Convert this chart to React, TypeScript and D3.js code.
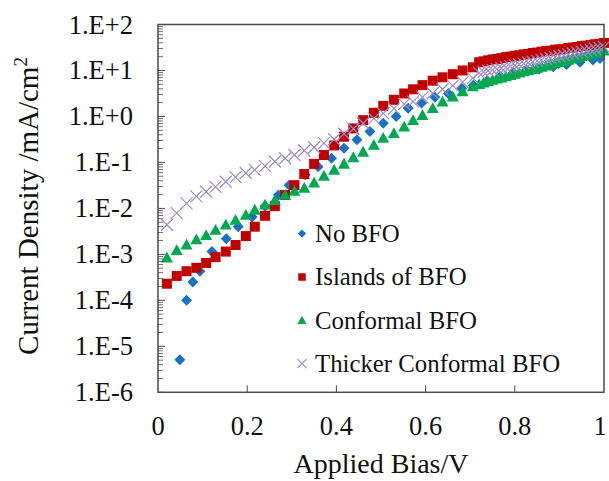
import React from "react";
import * as d3 from "d3";

// Applied bias (V) grid shared by Islands / Conformal / Thicker series
const biasGrid = [
  0.02, 0.042, 0.064, 0.086, 0.108, 0.129, 0.152, 0.174, 0.197, 0.217, 0.24, 0.262, 0.285, 0.306, 0.328, 0.35,
  0.372, 0.395, 0.417, 0.438, 0.46, 0.484, 0.505, 0.529, 0.552, 0.572, 0.593, 0.616, 0.638, 0.661, 0.683, 0.706,
  0.72, 0.73, 0.74, 0.75, 0.76, 0.77, 0.78, 0.79, 0.8, 0.81, 0.82, 0.83, 0.84, 0.85, 0.86, 0.87, 0.88, 0.89,
  0.9, 0.91, 0.92, 0.93, 0.94, 0.95, 0.96, 0.97, 0.98, 0.99, 1.0,
];

// Current density (mA/cm^2)
const islandsBFO = [
  2.3e-4, 3.4e-4, 4.3e-4, 5.1e-4, 6.5e-4, 8.7e-4, 1.15e-3, 1.6e-3, 2.5e-3, 4.0e-3, 6.9e-3, 1.12e-2, 1.95e-2, 3.2e-2,
  5.6e-2, 9.3e-2, 0.145, 0.234, 0.363, 0.55, 0.83, 1.2, 1.7, 2.3, 3.16, 3.9, 4.8, 6.0, 7.1, 8.3, 10.0, 11.7,
  15.1, 15.8, 16.6, 17.4, 17.8, 18.6, 19.5, 20.0, 20.9, 21.4, 22.4, 22.9, 24.0, 24.5, 25.7, 26.3, 26.9, 28.2, 28.8,
  29.5, 30.9, 31.6, 32.4, 33.9, 34.7, 35.5, 37.2, 38.0, 39.8,
];

const conformalBFO = [
  8.5e-4, 1.23e-3, 1.62e-3, 2.1e-3, 2.6e-3, 3.4e-3, 4.4e-3, 5.6e-3, 7.2e-3, 9.3e-3, 1.2e-2, 1.5e-2, 1.95e-2, 2.4e-2,
  2.8e-2, 3.6e-2, 5.1e-2, 6.9e-2, 9.3e-2, 0.129, 0.17, 0.24, 0.34, 0.43, 0.6, 0.83, 1.07, 1.51, 2.1, 2.7, 3.5, 4.5,
  5.0, 5.4, 5.8, 6.2, 6.6, 7.0, 7.4, 7.9, 8.4, 8.9, 9.5, 10.0, 10.7, 11.3, 12.0, 12.7, 13.5, 14.3, 15.1, 16.0, 17.0,
  18.0, 19.1, 20.2, 21.4, 22.6, 23.9, 25.3, 26.8,
];

const thickerConformalBFO = [
  4.4e-3, 7.9e-3, 1.29e-2, 1.82e-2, 2.3e-2, 2.95e-2, 3.8e-2, 4.8e-2, 5.9e-2, 6.9e-2, 8.3e-2, 0.105, 0.123, 0.145,
  0.182, 0.214, 0.263, 0.32, 0.42, 0.54, 0.71, 0.91, 1.17, 1.48, 1.86, 2.1, 2.6, 3.2, 3.9, 4.7, 5.6, 6.8,
  8.9, 9.3, 9.8, 10.2, 10.7, 11.2, 11.7, 12.3, 12.9, 13.5, 14.1, 14.8, 15.5, 16.2, 17.0, 17.8, 18.6, 19.5, 20.4,
  21.4, 22.4, 23.4, 24.5, 25.7, 26.9, 28.2, 29.5, 30.9, 32.4,
];

// No BFO has its own bias points
const noBFOBias = [
  0.049, 0.064, 0.078, 0.094, 0.121, 0.153, 0.18, 0.211, 0.24, 0.27, 0.294, 0.33, 0.359, 0.389, 0.417, 0.446, 0.475,
  0.505, 0.534, 0.561, 0.591, 0.621, 0.651, 0.681, 0.707, 0.738, 0.767, 0.797, 0.827, 0.855, 0.886, 0.916, 0.946,
  0.975, 0.991,
];
const noBFO = [
  5.1e-6, 1.0e-4, 2.5e-4, 4.3e-4, 1.15e-3, 2.2e-3, 4.0e-3, 6.5e-3, 1.12e-2, 1.95e-2, 3.2e-2, 5.4e-2, 8.1e-2, 0.123,
  0.204, 0.31, 0.47, 0.71, 1.0, 1.51, 1.95, 2.6, 3.16, 4.1, 4.8, 6.0, 7.4, 8.9, 10.0, 10.7, 12.0, 13.5, 15.1, 17.0,
  18.2,
];

const xTicks = [0, 0.2, 0.4, 0.6, 0.8, 1];
const xTickLabels = ["0", "0.2", "0.4", "0.6", "0.8", "1"];
const yTicks = [1e-6, 1e-5, 1e-4, 1e-3, 1e-2, 1e-1, 1e0, 1e1, 1e2];
const yTickLabels = ["1.E-6", "1.E-5", "1.E-4", "1.E-3", "1.E-2", "1.E-1", "1.E+0", "1.E+1", "1.E+2"];
const seriesNames = ["No BFO", "Islands of BFO", "Conformal BFO", "Thicker Conformal BFO"];

const W = 609;
const H = 481;
const M = { left: 158, right: 604, top: 24.5, bottom: 392.3 };
const FONT = "'Liberation Serif', 'Times New Roman', serif";

const COLORS = {
  blue: "#1a70c2",
  red: "#c00000",
  green: "#00a850",
  purple: "#9d8ac8",
};

type Shape = "diamond" | "square" | "triangle" | "cross";

function Marker({ shape, x, y, s = 1, color }: { shape: Shape; x: number; y: number; s?: number; color: string }) {
  if (shape === "diamond") {
    const r = 5.5 * s;
    return <path d={`M${x},${y - r}L${x + r},${y}L${x},${y + r}L${x - r},${y}Z`} fill={color} />;
  }
  if (shape === "square") {
    const h = 5 * s;
    return <rect x={x - h} y={y - h} width={2 * h} height={2 * h} fill={color} />;
  }
  if (shape === "triangle") {
    const r = 6 * s;
    return <path d={`M${x},${y - r}L${x + r},${y + r * 0.8}L${x - r},${y + r * 0.8}Z`} fill={color} />;
  }
  const r = 6 * s;
  return (
    <path
      d={`M${x - r},${y - r}L${x + r},${y + r}M${x - r},${y + r}L${x + r},${y - r}`}
      stroke={color}
      strokeWidth={1.2}
      fill="none"
    />
  );
}

export default function App() {
  const x = d3.scaleLinear().domain([0, 1]).range([M.left, M.right]);
  const y = d3.scaleLog().domain([1e-6, 1e2]).range([M.bottom, M.top]);

  const minorTicks: number[] = [];
  for (let e = -6; e < 2; e++) {
    for (let k = 2; k <= 9; k++) minorTicks.push(k * Math.pow(10, e));
  }

  const series: { name: string; xs: number[]; ys: number[]; shape: Shape; color: string }[] = [
    { name: seriesNames[0], xs: noBFOBias, ys: noBFO, shape: "diamond", color: COLORS.blue },
    { name: seriesNames[1], xs: biasGrid, ys: islandsBFO, shape: "square", color: COLORS.red },
    { name: seriesNames[2], xs: biasGrid, ys: conformalBFO, shape: "triangle", color: COLORS.green },
    { name: seriesNames[3], xs: biasGrid, ys: thickerConformalBFO, shape: "cross", color: COLORS.purple },
  ];

  const legendY = [233.5, 277, 320.3, 363.6];

  return (
    <svg
      width={W}
      height={H}
      style={{ position: "absolute", left: 0, top: 0, background: "#fff" }}
      fontFamily={FONT}
    >
      {/* data */}
      <g>
        {series.map((s) =>
          s.xs.map((v, i) => (
            <Marker key={s.name + i} shape={s.shape} x={x(v)} y={y(s.ys[i])} color={s.color} />
          ))
        )}
      </g>

      {/* frame */}
      <rect
        x={M.left}
        y={M.top}
        width={M.right - M.left}
        height={M.bottom - M.top}
        fill="none"
        stroke="#4a4a4a"
        strokeWidth={1.5}
      />

      {/* y ticks */}
      {yTicks.map((t) => (
        <line key={"ym" + t} x1={M.left} x2={M.left + 7} y1={y(t)} y2={y(t)} stroke="#4a4a4a" strokeWidth={1} />
      ))}
      {minorTicks.map((t) => (
        <line key={"yn" + t} x1={M.left} x2={M.left + 5} y1={y(t)} y2={y(t)} stroke="#4a4a4a" strokeWidth={0.8} />
      ))}
      {yTicks.map((t, i) => (
        <text key={"yl" + t} x={133} y={y(t) + 9} textAnchor="end" fontSize={26.5} fill="#111">
          {yTickLabels[i]}
        </text>
      ))}

      {/* x ticks */}
      {xTicks.map((t, i) => (
        <g key={"xt" + t}>
          {t > 0 && t < 1 && (
            <line x1={x(t)} x2={x(t)} y1={M.bottom} y2={M.bottom - 7} stroke="#4a4a4a" strokeWidth={1} />
          )}
          <text x={t === 1 ? x(t) - 4 : x(t)} y={435} textAnchor="middle" fontSize={26.5} fill="#111">
            {xTickLabels[i]}
          </text>
        </g>
      ))}

      {/* axis titles */}
      <text x={381} y={473} textAnchor="middle" fontSize={28} fill="#111">
        Applied Bias/V
      </text>
      <text transform="translate(38,206) rotate(-90)" textAnchor="middle" fontSize={29} fill="#111">
        Current Density /mA/cm<tspan dy={-11} fontSize={19}>2</tspan>
      </text>

      {/* legend */}
      {series.map((s, i) => (
        <g key={"lg" + i}>
          <Marker shape={s.shape} x={302} y={legendY[i]} s={0.75} color={s.color} />
          <text x={315} y={legendY[i] + 8.3} fontSize={24.8} fill="#111">
            {s.name}
          </text>
        </g>
      ))}
    </svg>
  );
}
